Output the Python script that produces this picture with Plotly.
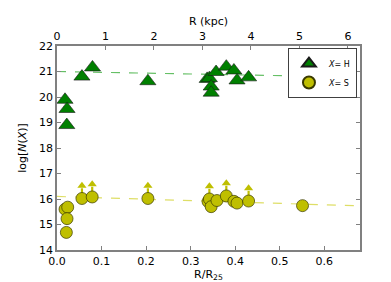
import plotly.graph_objects as go

# R/R25 positions and log column densities
r_h = [0.018, 0.0225, 0.022, 0.056, 0.0796, 0.204, 0.337, 0.342, 0.346, 0.346,
       0.357, 0.380, 0.397, 0.404, 0.430, 0.551]
n_h = [19.89, 19.53, 18.90, 20.80, 21.16, 20.62, 20.71, 20.74, 20.41, 20.17,
       20.98, 21.19, 21.04, 20.65, 20.77, 20.57]

r_s = [0.018, 0.024, 0.0225, 0.021, 0.056, 0.079, 0.204, 0.339, 0.342, 0.346,
       0.359, 0.380, 0.397, 0.404, 0.430, 0.551]
n_s = [15.60, 15.68, 15.23, 14.69, 16.02, 16.08, 16.02, 15.90, 16.00, 15.70,
       15.94, 16.12, 15.91, 15.84, 15.92, 15.74]
lower_limit_s = [False, False, False, False, True, True, True, False, True, False,
                 False, True, False, False, True, False]

# linear fits (dashed)
fit_x = [0.0, 0.68]
fit_h = [21.00, 20.78]
fit_s = [16.10, 15.73]

x_range = [0.0, 0.68]
kpc_range = [0.0, 6.25]
y_range = [14, 22]

GREEN = "#008000"
YELLOW = "#bfbf00"
FONT = "DejaVu Sans"
ARROW_LEN = 0.5  # length of lower-limit arrows, in dex

fig = go.Figure()

fig.add_trace(go.Scatter(x=fit_x, y=fit_h, mode="lines", showlegend=False,
                         line=dict(color="rgba(0,150,0,0.6)", width=1.2, dash="dash")))
fig.add_trace(go.Scatter(x=fit_x, y=fit_s, mode="lines", showlegend=False,
                         line=dict(color="rgba(200,200,0,0.6)", width=1.2, dash="dash")))

# lower-limit arrows: shafts and heads
shaft_x, shaft_y, head_x, head_y = [], [], [], []
for x, y, lim in zip(r_s, n_s, lower_limit_s):
    if lim:
        shaft_x += [x, x, None]
        shaft_y += [y, y + ARROW_LEN - 0.1, None]
        head_x.append(x)
        head_y.append(y + ARROW_LEN)
fig.add_trace(go.Scatter(x=shaft_x, y=shaft_y, mode="lines", showlegend=False,
                         line=dict(color=YELLOW, width=2.2), hoverinfo="skip"))
fig.add_trace(go.Scatter(x=head_x, y=head_y, mode="markers", showlegend=False,
                         marker=dict(symbol="triangle-up", size=8, color=YELLOW,
                                     line=dict(width=0)), hoverinfo="skip"))

fig.add_trace(go.Scatter(x=r_h, y=n_h, mode="markers", name="<i>X</i>= H",
                         marker=dict(symbol="triangle-up", size=14, color=GREEN,
                                     line=dict(color="#1a1a1a", width=0.6))))
fig.add_trace(go.Scatter(x=r_s, y=n_s, mode="markers", name="<i>X</i>= S",
                         marker=dict(symbol="circle", size=12, color=YELLOW,
                                     line=dict(color="#3a3a00", width=0.7))))

# invisible trace for top axis
fig.add_trace(go.Scatter(x=kpc_range, y=[None, None], xaxis="x2", yaxis="y",
                         mode="markers", showlegend=False, hoverinfo="skip"))

axis_common = dict(showgrid=False, zeroline=False, showline=True, linecolor="#808080",
                   linewidth=1.5, ticks="inside", tickcolor="#808080", ticklen=4,
                   tickfont=dict(family=FONT, size=11, color="black"))

fig.update_layout(
    width=391, height=282,
    margin=dict(l=49, r=39, t=28, b=29),
    plot_bgcolor="white", paper_bgcolor="white",
    font=dict(family=FONT, size=11, color="black"),
    xaxis=dict(range=x_range, tickvals=[0, 0.1, 0.2, 0.3, 0.4, 0.5, 0.6],
               ticktext=["0.0", "0.1", "0.2", "0.3", "0.4", "0.5", "0.6"],
               mirror=True,
               title=dict(text="R/R<sub>25</sub>", font=dict(family=FONT, size=11), standoff=2),
               **axis_common),
    xaxis2=dict(range=kpc_range, overlaying="x", side="top", anchor="y",
                tickvals=[0, 1, 2, 3, 4, 5, 6],
                title=dict(text="R (kpc)", font=dict(family=FONT, size=11), standoff=2),
                **axis_common),
    yaxis=dict(range=y_range, tickvals=list(range(14, 23)), mirror="ticks",
               title=dict(text="log[<i>N</i>(<i>X</i>)]", font=dict(family=FONT, size=11),
                          standoff=10),
               **axis_common),
    legend=dict(x=0.99, y=0.99, xanchor="right", yanchor="top",
                bordercolor="#404040", borderwidth=1, bgcolor="white",
                font=dict(family=FONT, size=8), itemwidth=30,
                tracegroupgap=0, itemsizing="constant"),
)

fig.write_html("out.html")
